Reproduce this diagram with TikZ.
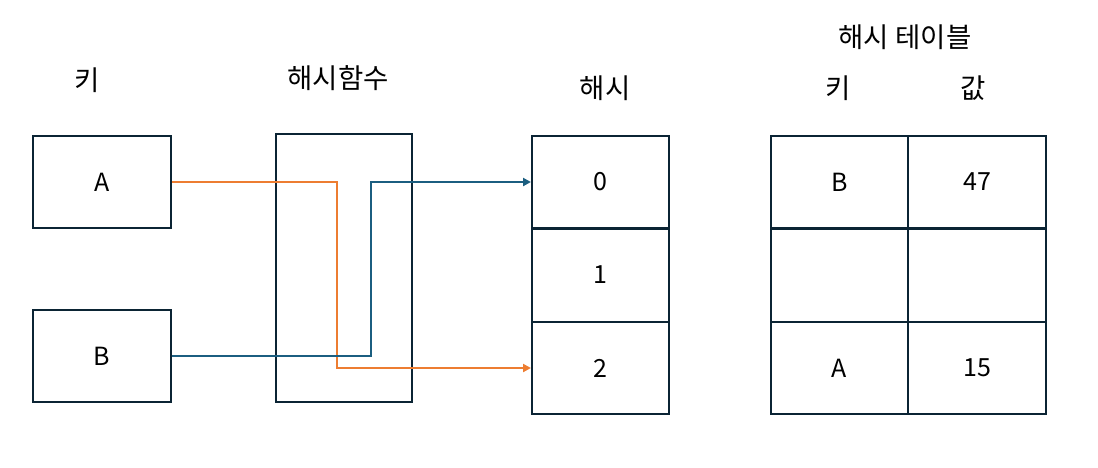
\documentclass[tikz,border=0pt]{standalone}
\usepackage{fontspec}
\setmainfont{Noto Sans CJK KR}
\usetikzlibrary{arrows.meta}
\definecolor{boxc}{HTML}{0B2434}
\definecolor{orng}{HTML}{ED7D31}
\definecolor{blu}{HTML}{1B5E80}
\tikzset{
  cell/.style={draw=boxc, line width=2pt, inner sep=0pt, minimum width=#1},
  cell/.default=138pt,
  lbl/.style={inner sep=0pt, font=\fontsize{25}{30}\selectfont, text=black},
  klbl/.style={inner sep=0pt, font=\fontsize{27.5}{32}\selectfont, text=black},
  conn/.style={line width=2pt, -{Triangle[length=8pt,width=8pt]}},
}
\begin{document}
\begin{tikzpicture}[x=1pt,y=-1pt]
\useasboundingbox (0,0) rectangle (1098,467);
% keys
\node[cell, minimum height=92pt, lbl] (a) at (102,182) {A};
\node[cell, minimum height=92pt, lbl] (b) at (102,356) {B};
% hash function
\node[cell=136pt, minimum height=268pt] (hf) at (344,268) {};
% hash column
\node[cell=137pt, minimum height=93pt, lbl] (h0) at (600.5,182) {0};
\node[cell=137pt, minimum height=94pt, lbl] (h1) at (600.5,275) {1};
\node[cell=137pt, minimum height=92pt, lbl] (h2) at (600.5,368) {2};
% table
\node[cell=137pt, minimum height=93pt, lbl] (t0k) at (839.5,182) {B};
\node[cell=138pt, minimum height=93pt, lbl] (t0v) at (977,182) {47};
\node[cell=137pt, minimum height=94pt] (t1k) at (839.5,275) {};
\node[cell=138pt, minimum height=94pt] (t1v) at (977,275) {};
\node[cell=137pt, minimum height=92pt, lbl] (t2k) at (839.5,368) {A};
\node[cell=138pt, minimum height=92pt, lbl] (t2v) at (977,368) {15};
% labels
\node[klbl] (lk) at (87,80) {키};
\node[klbl] (lhf) at (338,78) {해시함수};
\node[klbl] (lh) at (605,88) {해시};
\node[klbl] (lt) at (905,37) {해시 테이블};
\node[klbl] (ltk) at (838,88) {키};
\node[klbl] (ltv) at (973,88) {값};
% connectors
\coordinate (oc) at (337,0);
\coordinate (bc) at (371,0);
\draw[conn, orng] (a.east) -| (oc |- h2.west) -- (h2.west);
\draw[conn, blu] (b.east) -| (bc |- h0.west) -- (h0.west);
\end{tikzpicture}
\end{document}
